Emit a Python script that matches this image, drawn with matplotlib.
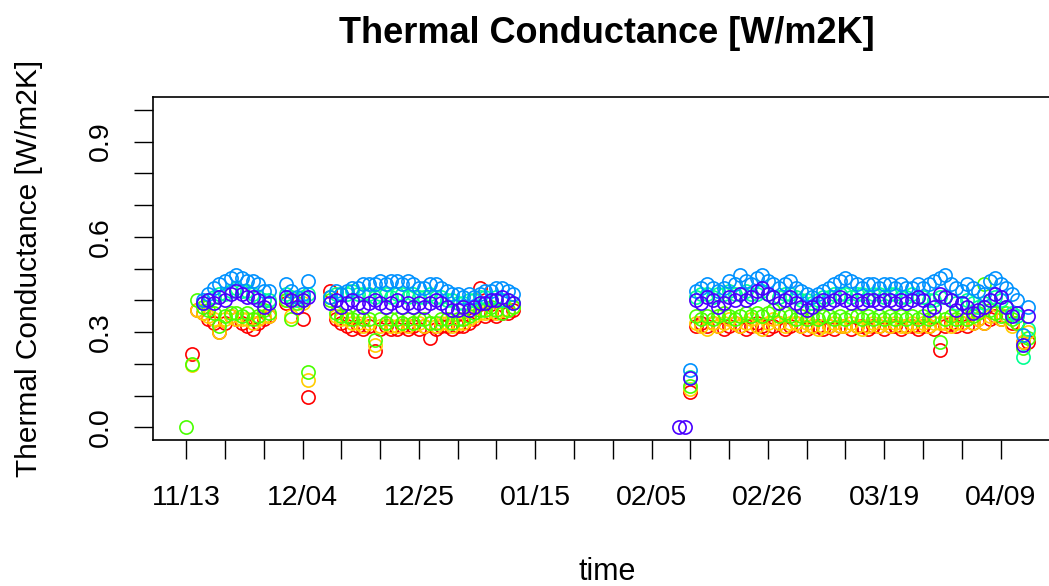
import numpy as np
import pandas as pd
import matplotlib
matplotlib.use("Agg")
import matplotlib.pyplot as plt

plt.rcParams['font.family'] = ['Liberation Sans', 'DejaVu Sans']

nan = np.nan

# measurement days: autumn/winter period with short gaps, then spring period
dates = pd.DatetimeIndex(
    list(pd.date_range("2017-11-13", "2017-11-28"))
    + list(pd.date_range("2017-12-01", "2017-12-05"))
    + list(pd.date_range("2017-12-09", "2018-01-11"))
    + list(pd.date_range("2018-02-10", "2018-04-14")))

# one series per sensor, values in W/m2K (NaN = no reading)
red = ([nan, 0.23, 0.37, 0.36, 0.34, 0.33, 0.30, 0.33, 0.35, 0.34, 0.33, 0.32, 0.31, 0.33, 0.34, 0.35]
       + [0.39, 0.40, 0.38, 0.34, 0.095]
       + [0.43, 0.34, 0.33, 0.32, 0.31, 0.32, 0.31, 0.32, 0.24, 0.31, 0.32, 0.31, 0.31, 0.32, 0.31, 0.32, 0.31,
          0.32, 0.28, 0.31, 0.32, 0.32, 0.31, 0.32, 0.32, 0.33, 0.34, 0.44, 0.35, 0.36, 0.35, 0.36, 0.36, 0.37]
       + [nan, nan, 0.11,
          0.32, 0.33, 0.32, 0.33, 0.32, 0.31, 0.32, 0.33, 0.32, 0.31, 0.32, 0.33, 0.32, 0.31, 0.32, 0.33,
          0.31, 0.32, 0.33, 0.32, 0.31, 0.32, 0.32, 0.31, 0.32, 0.31, 0.32, 0.32, 0.31, 0.32, 0.32, 0.31,
          0.32, 0.32, 0.31, 0.32, 0.32, 0.31, 0.32, 0.32, 0.31, 0.32, 0.32, 0.31, 0.245, 0.32, 0.33, 0.32,
          0.33, 0.32, 0.33, 0.34, 0.33, 0.34, 0.35, 0.34, 0.35, 0.33, 0.33, 0.27, 0.27])
yellow = ([nan, 0.195, 0.37, 0.36, 0.35, 0.34, 0.30, 0.34, 0.35, 0.34, 0.34, 0.34, 0.33, 0.34, 0.35, 0.35]
          + [0.40, 0.35, 0.40, 0.39, 0.15]
          + [0.41, 0.35, 0.34, 0.34, 0.33, 0.33, 0.32, 0.33, 0.26, 0.32, 0.33, 0.32, 0.32, 0.33, 0.32, 0.33, 0.33,
             0.32, 0.33, 0.32, 0.33, 0.33, 0.32, 0.33, 0.33, 0.34, 0.35, 0.36, 0.36, 0.37, 0.36, 0.37, 0.37, 0.38]
          + [nan, nan, 0.12,
             0.33, 0.32, 0.31, 0.33, 0.32, 0.33, 0.34, 0.33, 0.32, 0.33, 0.34, 0.32, 0.31, 0.33, 0.34, 0.33,
             0.32, 0.33, 0.33, 0.32, 0.33, 0.32, 0.31, 0.32, 0.32, 0.33, 0.32, 0.32, 0.33, 0.32, 0.31, 0.32,
             0.33, 0.32, 0.33, 0.32, 0.33, 0.32, 0.32, 0.33, 0.32, 0.33, 0.32, 0.33, 0.33, 0.33, 0.32, 0.33,
             0.33, 0.34, 0.33, 0.34, 0.33, 0.35, 0.36, 0.34, 0.35, 0.32, 0.33, 0.27, 0.30])
green = ([0.0, 0.20, 0.40, 0.38, 0.37, 0.36, 0.32, 0.35, 0.36, 0.36, 0.35, 0.36, 0.34, 0.35, 0.37, 0.36]
         + [0.40, 0.34, 0.39, 0.40, 0.175]
         + [0.40, 0.36, 0.35, 0.35, 0.34, 0.35, 0.34, 0.34, 0.275, 0.34, 0.33, 0.34, 0.34, 0.33, 0.34, 0.33, 0.34,
            0.34, 0.33, 0.33, 0.34, 0.34, 0.33, 0.34, 0.34, 0.35, 0.36, 0.37, 0.37, 0.38, 0.37, 0.36, 0.37, 0.38]
         + [nan, nan, 0.13,
            0.35, 0.34, 0.35, 0.34, 0.35, 0.36, 0.35, 0.34, 0.35, 0.36, 0.35, 0.36, 0.35, 0.36, 0.37, 0.35,
            0.36, 0.35, 0.34, 0.35, 0.34, 0.35, 0.34, 0.35, 0.35, 0.34, 0.35, 0.34, 0.35, 0.35, 0.34, 0.35,
            0.34, 0.35, 0.34, 0.35, 0.34, 0.35, 0.34, 0.35, 0.34, 0.35, 0.34, 0.35, 0.27, 0.34, 0.35, 0.34,
            0.35, 0.34, 0.35, 0.36, 0.45, 0.37, 0.36, 0.35, 0.36, 0.34, 0.33, 0.25, 0.28])
spring = ([nan, nan, nan, 0.39, 0.40, 0.41, 0.42, 0.42, 0.43, 0.44, 0.43, 0.43, 0.42, 0.41, 0.40, 0.40]
          + [0.42, 0.41, 0.40, 0.41, 0.42]
          + [0.41, 0.42, 0.42, 0.42, 0.43, 0.42, 0.42, 0.42, 0.41, 0.42, 0.42, 0.41, 0.42, 0.42, 0.41, 0.42, 0.41,
             0.41, 0.42, 0.41, 0.41, 0.40, 0.40, 0.39, 0.39, 0.40, 0.40, 0.41, 0.41, 0.40, 0.41, 0.40, 0.40, 0.39]
          + [nan, nan, 0.16,
             0.41, 0.42, 0.42, 0.41, 0.42, 0.42, 0.43, 0.42, 0.42, 0.43, 0.42, 0.42, 0.43, 0.42, 0.41, 0.41,
             0.42, 0.42, 0.41, 0.40, 0.40, 0.39, 0.40, 0.41, 0.41, 0.42, 0.42, 0.42, 0.41, 0.42, 0.42, 0.41,
             0.42, 0.42, 0.41, 0.42, 0.42, 0.41, 0.41, 0.42, 0.41, 0.41, 0.40, 0.40, 0.41, 0.41, 0.40, 0.39,
             0.39, 0.40, 0.39, 0.38, 0.39, 0.40, 0.41, 0.40, 0.38, 0.36, 0.35, 0.22, 0.31])
azure = ([nan, nan, nan, 0.40, 0.42, 0.44, 0.45, 0.46, 0.47, 0.48, 0.47, 0.46, 0.46, 0.45, 0.43, 0.43]
         + [0.45, 0.43, 0.41, 0.42, 0.46]
         + [0.41, 0.43, 0.42, 0.43, 0.44, 0.44, 0.45, 0.45, 0.45, 0.46, 0.45, 0.46, 0.46, 0.45, 0.46, 0.45, 0.44,
            0.44, 0.45, 0.45, 0.44, 0.43, 0.42, 0.42, 0.41, 0.42, 0.41, 0.42, 0.43, 0.43, 0.44, 0.44, 0.43, 0.42]
         + [nan, nan, 0.18,
            0.43, 0.44, 0.45, 0.44, 0.43, 0.44, 0.46, 0.45, 0.48, 0.46, 0.45, 0.47, 0.48, 0.46, 0.45, 0.44,
            0.45, 0.46, 0.44, 0.43, 0.42, 0.41, 0.42, 0.43, 0.44, 0.45, 0.46, 0.47, 0.46, 0.45, 0.44, 0.45,
            0.45, 0.44, 0.45, 0.45, 0.44, 0.45, 0.44, 0.44, 0.45, 0.44, 0.45, 0.46, 0.47, 0.48, 0.45, 0.44,
            0.43, 0.45, 0.44, 0.43, 0.42, 0.46, 0.47, 0.45, 0.44, 0.42, 0.40, 0.29, 0.38])
violet = ([nan, nan, nan, 0.39, 0.40, 0.39, 0.41, 0.40, 0.42, 0.43, 0.42, 0.41, 0.41, 0.40, 0.38, 0.39]
          + [0.41, 0.40, 0.38, 0.40, 0.41]
          + [0.39, 0.40, 0.38, 0.39, 0.40, 0.39, 0.38, 0.39, 0.40, 0.39, 0.38, 0.39, 0.40, 0.38, 0.39, 0.38, 0.39,
             0.38, 0.39, 0.40, 0.39, 0.38, 0.37, 0.37, 0.38, 0.37, 0.38, 0.39, 0.39, 0.40, 0.40, 0.41, 0.40, 0.39]
          + [0.0, 0.0, 0.155,
             0.40, 0.39, 0.41, 0.40, 0.38, 0.39, 0.41, 0.40, 0.42, 0.40, 0.41, 0.43, 0.44, 0.42, 0.41, 0.39,
             0.40, 0.41, 0.39, 0.38, 0.37, 0.38, 0.39, 0.40, 0.39, 0.40, 0.41, 0.40, 0.39, 0.40, 0.39, 0.40,
             0.40, 0.39, 0.40, 0.40, 0.39, 0.40, 0.39, 0.40, 0.41, 0.40, 0.37, 0.38, 0.42, 0.41, 0.40, 0.37,
             0.39, 0.38, 0.36, 0.37, 0.38, 0.40, 0.42, 0.41, 0.38, 0.35, 0.36, 0.26, 0.35])

series = [red, yellow, green, spring, azure, violet]
colors = ['#FF0000', '#FFCC00', '#49FF00', '#00FF92', '#0092FF', '#4900FF']

# axis ticks: weekly marks, every third one labelled
x_ticks = pd.date_range("2017-11-13", "2018-04-09", freq="7D")
x_labels = [d.strftime('%m/%d') if i % 3 == 0 else '' for i, d in enumerate(x_ticks)]
y_ticks = [0.0, 0.1, 0.2, 0.3, 0.4, 0.5, 0.6, 0.7, 0.8, 0.9, 1.0]
y_labels = ['0.0', '', '', '0.3', '', '', '0.6', '', '', '0.9', '']

fig = plt.figure(figsize=(10.49, 5.86), dpi=100)
ax = fig.add_axes([0.1454, 0.2491, 0.867, 0.5853])

for vals, col in zip(series, colors):
    ax.plot(dates, vals, linestyle='none', marker='o', markersize=9.5,
            markerfacecolor='none', markeredgecolor=col, markeredgewidth=1.2)

pad = (dates[-1] - dates[0]) * 0.04
ax.set_xlim(dates[0] - pad, dates[-1] + pad)
ax.set_ylim(-0.04, 1.04)

ax.set_xticks(x_ticks)
ax.set_xticklabels(x_labels)
ax.set_yticks(y_ticks)
ax.set_yticklabels(y_labels, rotation=90, va='center')
ax.tick_params(axis='both', direction='out', length=13.5, width=1, labelsize=20.5, colors='black')
ax.tick_params(axis='x', pad=19)
ax.tick_params(axis='y', pad=14)

for sp in ax.spines.values():
    sp.set_linewidth(1.2)
    sp.set_color('black')

ax.set_title('Thermal Conductance [W/m2K]', fontsize=26, fontweight='bold', pad=39)
ax.set_xlabel('time', fontsize=22)
ax.xaxis.set_label_coords(0.5, -0.34)
ax.set_ylabel('Thermal Conductance [W/m2K]', fontsize=21.5)
ax.yaxis.set_label_coords(-0.12, 0.5)

fig.savefig('out.png', dpi=100)
